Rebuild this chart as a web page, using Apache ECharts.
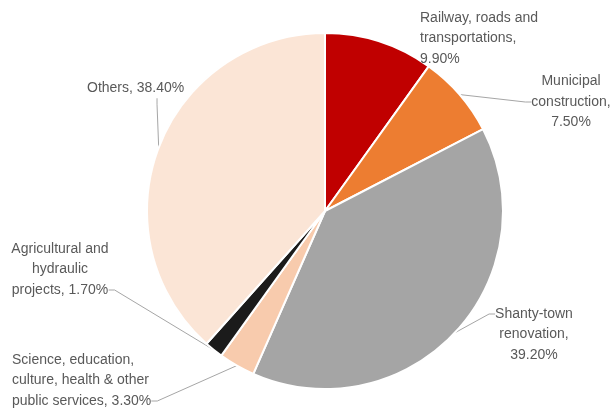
<!DOCTYPE html>
<html>
<head>
<meta charset="utf-8">
<script src="https://cdn.jsdelivr.net/npm/echarts@6/dist/echarts.min.js"></script>
<style>
  html, body { margin: 0; padding: 0; background: #fff; }
  #chart { width: 616px; height: 410px; }
</style>
</head>
<body>
<div id="chart"></div>
<script>
// Investment share by sector (%), clockwise from 12 o'clock
const categories = [
  'Railway, roads and\ntransportations',
  'Municipal\nconstruction',
  'Shanty-town\nrenovation',
  'Science, education,\nculture, health & other\npublic services',
  'Agricultural and\nhydraulic\nprojects',
  'Others'
];
const shares = [9.9, 7.5, 39.2, 3.3, 1.7, 38.4];
// separator between the name and its percentage in each label
const separators = [',\n', ',\n', ',\n', ', ', ', ', ', '];

const colors = ['#C00000', '#ED7D31', '#A5A5A5', '#F8CBAD', '#1B1B1B', '#FBE5D6'];

// Label block placement. `before`/`after` add empty lines so the leader
// attaches to the wanted text line; `trail` widens the box to the right.
const labelPlacement = [
  { x: 420, y: 38.5, align: 'left',   before: 0, after: 0, trail: 0,  line: false },
  { x: 571, y: 102,  align: 'center', before: 0, after: 0, trail: 0,  line: true },
  { x: 534, y: 314,  align: 'center', before: 2, after: 0, trail: 0,  line: true },
  { x: 12,  y: 401,  align: 'left',   before: 0, after: 2, trail: 0,  line: true },
  { x: 60,  y: 290,  align: 'center', before: 0, after: 2, trail: 0,  line: true },
  { x: 87,  y: 88,   align: 'left',   before: 0, after: 0, trail: 11, line: true }
];

const data = categories.map((name, i) => ({
  name: name,
  value: shares[i],
  itemStyle: { color: colors[i] },
  label: { align: labelPlacement[i].align },
  labelLine: { show: labelPlacement[i].line }
}));

function labelText(p) {
  const s = labelPlacement[p.dataIndex];
  return '\n'.repeat(s.before) +
    p.name + separators[p.dataIndex] + p.value.toFixed(2) + '%' +
    ' '.repeat(s.trail) +
    '\n '.repeat(s.after);
}

const chart = echarts.init(document.getElementById('chart'), null, { renderer: 'canvas' });
chart.setOption({
  animation: false,
  backgroundColor: '#ffffff',
  series: [{
    type: 'pie',
    center: [325, 211],
    radius: 178,
    startAngle: 90,
    clockwise: true,
    avoidLabelOverlap: false,
    itemStyle: { borderColor: '#ffffff', borderWidth: 2 },
    label: {
      show: true,
      position: 'outside',
      color: '#595959',
      fontFamily: 'Liberation Sans',
      fontSize: 14,
      lineHeight: 20.5,
      formatter: labelText
    },
    labelLine: {
      show: true,
      length: 10,
      length2: 6,
      smooth: false,
      lineStyle: { color: '#A6A6A6', width: 1 }
    },
    labelLayout: p => {
      const s = labelPlacement[p.dataIndex];
      return { x: s.x, y: s.y, align: s.align, verticalAlign: 'middle' };
    },
    data: data
  }]
});
</script>
</body>
</html>
